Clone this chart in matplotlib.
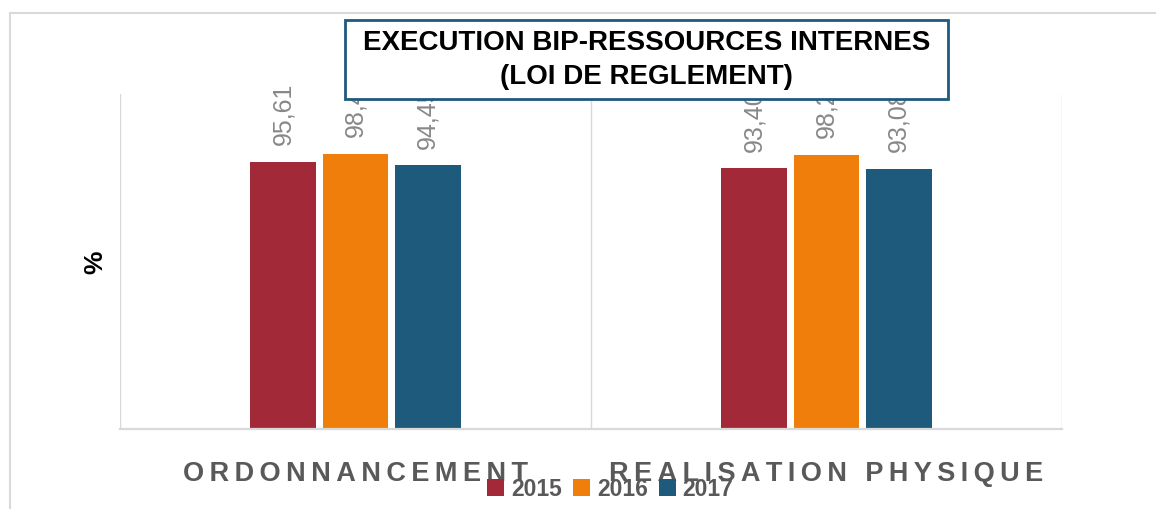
import matplotlib
matplotlib.use("Agg")
import matplotlib.pyplot as plt
from matplotlib.patches import Rectangle
import numpy as np

categories = ["ORDONNANCEMENT", "REALISATION PHYSIQUE"]
years = ["2015", "2016", "2017"]
val_2015 = [95.61, 93.40]
val_2016 = [98.47, 98.25]
val_2017 = [94.45, 93.08]
colors = ["#a22937", "#ef7f0a", "#1d5a7c"]

plt.rcParams["font.family"] = ["Liberation Sans", "DejaVu Sans"]

W, H = 1156, 509
fig = plt.figure(figsize=(W / 100, H / 100), dpi=100)
fig.patch.set_facecolor("white")
ax = fig.add_axes([120 / W, 1 - 429 / H, (1062 - 120) / W, (429 - 94) / H])

x = np.arange(len(categories))
width = 0.14
step = 0.153
series = [val_2015, val_2016, val_2017]
for i, (vals, lab, col) in enumerate(zip(series, years, colors)):
    bars = ax.bar(x + (i - 1) * step, vals, width, color=col, label=lab)
    for b, v in zip(bars, vals):
        ax.annotate(f"{v:.2f}".replace(".", ","),
                    (b.get_x() + b.get_width() / 2, b.get_height()),
                    xytext=(0, 12), textcoords="offset points",
                    rotation=90, ha="center", va="bottom",
                    fontsize=18, color="#888888")

ax.set_xlim(-0.5, 1.5)
ax.set_ylim(0, 120)
ax.set_yticks([])
ax.set_xticks(x)
ax.set_xticklabels(["\u2009".join(c) for c in categories],
                   fontsize=19.5, fontweight="bold", color="#595959")
ax.tick_params(axis="x", length=0, pad=23)
ax.set_xticks([-0.5, 0.5, 1.5], minor=True)
ax.tick_params(axis="x", which="minor", length=0)
ax.grid(axis="x", which="minor", color="#d9d9d9", lw=1)
for s in ["top", "left", "right"]:
    ax.spines[s].set_visible(False)
ax.spines["bottom"].set_color("#d9d9d9")
ax.spines["bottom"].set_linewidth(1.6)

leg = fig.legend(loc="center", bbox_to_anchor=(0.528, 0.039), ncol=3,
                 frameon=False, prop={"weight": "bold", "size": 16.5},
                 labelcolor="#595959", handlelength=0.74, handleheight=0.74,
                 handletextpad=0.3, columnspacing=0.48, borderaxespad=0)

fig.text(95 / W, 1 - 262 / H, "%", rotation=90, ha="center", va="center",
         fontsize=19, fontweight="bold")

# title box
fig.add_artist(Rectangle((345 / W, 1 - 99 / H), (948 - 345) / W, (99 - 20) / H,
                         transform=fig.transFigure, facecolor="white",
                         edgecolor="#1f5a7e", lw=2, zorder=5))
fig.text(646.5 / W, 1 - 60 / H, "EXECUTION BIP-RESSOURCES INTERNES\n(LOI DE REGLEMENT)",
         ha="center", va="center", fontsize=20, fontweight="bold",
         linespacing=1.4, zorder=6)

# outer chart border (only top and left edges visible)
fig.add_artist(Rectangle((10 / W, -0.5), 2.0, 0.5 + (1 - 13 / H),
                         transform=fig.transFigure, facecolor="none",
                         edgecolor="#d9d9d9", lw=1.5, clip_on=False, zorder=1))

fig.savefig("out.png", dpi=100)
